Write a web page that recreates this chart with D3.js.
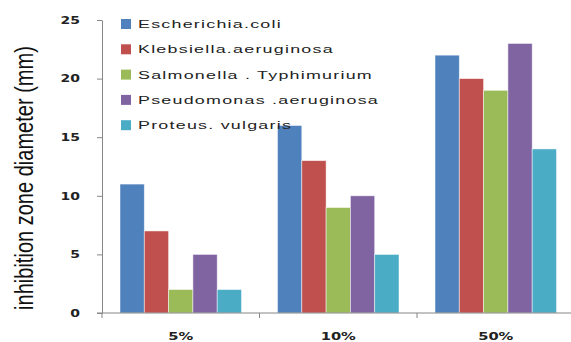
<!DOCTYPE html>
<html>
<head>
<meta charset="utf-8">
<script src="https://cdn.jsdelivr.net/npm/d3@7"></script>
<style>
  html, body { margin: 0; padding: 0; background: #fff; }
  svg { display: block; }
</style>
</head>
<body>
<svg id="chart" width="571" height="342"></svg>
<script>
// Concentrations tested
const categories = ["5%", "10%", "50%"];
// Bacterial strains (legend order)
const seriesNames = [
  "Escherichia.coli",
  "Klebsiella.aeruginosa",
  "Salmonella . Typhimurium",
  "Pseudomonas .aeruginosa",
  "Proteus. vulgaris"
];
// Inhibition zone diameter (mm) per strain, one value per concentration
const escherichia = [11, 16, 22];
const klebsiella = [7, 13, 20];
const salmonella = [2, 9, 19];
const pseudomonas = [5, 10, 23];
const proteus = [2, 5, 14];
const yTicks = [0, 5, 10, 15, 20, 25];
const colors = ["#4F81BD", "#C0504D", "#9BBB59", "#8064A2", "#4BACC6"];

const values = [escherichia, klebsiella, salmonella, pseudomonas, proteus];

const svg = d3.select("#chart");
const plotLeft = 102, plotRight = 574.5, plotTop = 20, plotBottom = 313;
const stretchX = 1.4; // text is drawn horizontally widened

const x0 = d3.scaleBand().domain(categories).range([plotLeft, plotRight]).paddingInner(0).paddingOuter(0);
const inner = 18 / 157.5;
const x1 = d3.scaleBand().domain(d3.range(seriesNames.length))
  .range([x0.bandwidth() * inner, x0.bandwidth() * (1 - inner)]);
const y = d3.scaleLinear().domain([0, 25]).range([plotBottom, plotTop]);

const axisColor = "#868686";
const labelFont = "'DejaVu Sans', Verdana, sans-serif";

// Bars
const groups = svg.append("g").selectAll("g")
  .data(categories)
  .join("g")
  .attr("transform", d => `translate(${x0(d)},0)`);

groups.selectAll("rect")
  .data((c, ci) => values.map((s, si) => ({ si, v: s[ci] })))
  .join("rect")
  .attr("x", d => x1(d.si))
  .attr("y", d => y(d.v))
  .attr("width", x1.bandwidth())
  .attr("height", d => y(0) - y(d.v))
  .attr("fill", d => colors[d.si])
  .attr("stroke", "rgba(255,255,255,0.6)")
  .attr("stroke-width", 0.8);

// Y axis
const yAxis = svg.append("g")
  .attr("transform", `translate(${plotLeft},0)`)
  .call(d3.axisLeft(y).tickValues(yTicks).tickSize(5).tickSizeOuter(0));
yAxis.select(".domain").attr("stroke", axisColor);
yAxis.selectAll(".tick line").attr("stroke", axisColor);
yAxis.selectAll(".tick text")
  .attr("x", 0)
  .attr("transform", `translate(-22,0) scale(${stretchX},1)`)
  .attr("fill", "#222")
  .attr("font-family", labelFont)
  .attr("font-weight", "bold")
  .attr("font-size", 10);

// X axis with ticks at category boundaries
const xAxisG = svg.append("g").attr("transform", `translate(0,${plotBottom})`);
xAxisG.append("line")
  .attr("x1", plotLeft - 5).attr("x2", plotRight).attr("y1", 0).attr("y2", 0)
  .attr("stroke", axisColor);
const boundaries = categories.map(c => x0(c)).concat([x0(categories[categories.length - 1]) + x0.bandwidth()]);
xAxisG.selectAll("line.b")
  .data(boundaries)
  .join("line")
  .attr("class", "b")
  .attr("x1", d => d).attr("x2", d => d)
  .attr("y1", 0).attr("y2", 5)
  .attr("stroke", axisColor);
xAxisG.selectAll("text")
  .data(categories)
  .join("text")
  .attr("transform", d => `translate(${x0(d) + x0.bandwidth() / 2},27) scale(${stretchX},1)`)
  .attr("text-anchor", "middle")
  .attr("fill", "#222")
  .attr("font-family", labelFont)
  .attr("font-weight", "bold")
  .attr("font-size", 10.5)
  .text(d => d);

// Y axis title (condensed to a fixed length)
const title = svg.append("text")
  .attr("text-anchor", "middle")
  .attr("fill", "#111")
  .attr("font-family", "'Liberation Sans', Arial, sans-serif")
  .attr("font-size", 25)
  .text("inhibition zone diameter (mm)");
const titleLen = title.node().getComputedTextLength();
title.attr("transform", `translate(33,178) rotate(-90) scale(${264 / titleLen},1)`);

// Legend
const legend = svg.append("g").attr("transform", "translate(121,24)");
const rows = legend.selectAll("g")
  .data(seriesNames)
  .join("g")
  .attr("transform", (d, i) => `translate(0,${i * 25.3})`);
rows.append("rect")
  .attr("x", 0).attr("y", -5)
  .attr("width", 10).attr("height", 10)
  .attr("fill", (d, i) => colors[i]);
const legendText = rows.append("text")
  .attr("dy", "0.36em")
  .attr("fill", "#222")
  .attr("font-family", "'Liberation Sans', Arial, sans-serif")
  .attr("font-size", 11.5)
  .attr("letter-spacing", 0.8)
  .text(d => d);
const firstLen = legendText.node().getComputedTextLength();
legendText.attr("transform", `translate(17,0) scale(${144 / firstLen},1)`);
</script>
</body>
</html>
